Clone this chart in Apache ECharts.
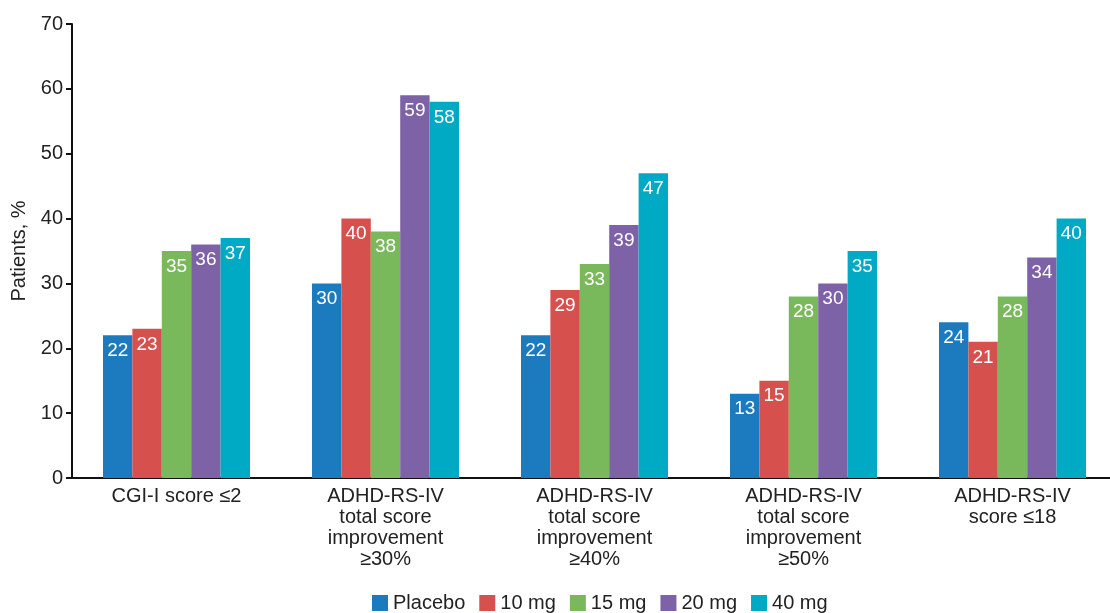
<!DOCTYPE html>
<html><head><meta charset="utf-8">
<script src="https://cdn.jsdelivr.net/npm/echarts@6/dist/echarts.min.js"></script>
<style>html,body{margin:0;padding:0;background:#fff}#c{width:1110px;height:613px}</style>
</head><body><div id="c"></div>
<script>
const categories = ['CGI-I score ≤2', 'ADHD-RS-IV\ntotal score\nimprovement\n≥30%', 'ADHD-RS-IV\ntotal score\nimprovement\n≥40%', 'ADHD-RS-IV\ntotal score\nimprovement\n≥50%', 'ADHD-RS-IV\nscore ≤18'];
const seriesNames = ['Placebo', '10 mg', '15 mg', '20 mg', '40 mg'];
const placebo = [22, 30, 22, 13, 24];
const mg10 = [23, 40, 29, 15, 21];
const mg15 = [35, 38, 33, 28, 28];
const mg20 = [36, 59, 39, 30, 34];
const mg40 = [37, 58, 47, 35, 40];
const yTicks = [0, 10, 20, 30, 40, 50, 60, 70];
const colors = ['#1c7bbf', '#d6504e', '#79b95b', '#7d62a8', '#00aac4'];
const values = [placebo, mg10, mg15, mg20, mg40];
const font = 'Liberation Sans, Arial, sans-serif';
const chart = echarts.init(document.getElementById('c'), null, {renderer: 'canvas'});
chart.setOption({
  animation: false,
  color: colors,
  grid: {left: 72, top: 24, bottom: 135, width: 1045, outerBoundsMode: 'none', containLabel: false},
  legend: {
    top: 593, left: 372, itemWidth: 16, itemHeight: 16, itemGap: 14,
    icon: 'rect', padding: 0,
    textStyle: {fontFamily: font, fontSize: 20, color: '#222'},
    data: seriesNames
  },
  xAxis: {
    type: 'category', data: categories,
    axisLine: {lineStyle: {color: '#111', width: 2}},
    axisTick: {show: false},
    axisLabel: {fontFamily: font, fontSize: 20, color: '#222', lineHeight: 21, margin: 8, interval: 0}
  },
  yAxis: {
    type: 'value', min: yTicks[0], max: yTicks[yTicks.length - 1], interval: 10,
    name: 'Patients, %', nameLocation: 'middle', nameGap: 39, nameRotate: 90,
    nameTextStyle: {fontFamily: font, fontSize: 20, color: '#222'},
    axisLine: {show: true, lineStyle: {color: '#111', width: 2}},
    axisTick: {show: true, length: 6, lineStyle: {color: '#111', width: 2}},
    splitLine: {show: false},
    axisLabel: {fontFamily: font, fontSize: 20, color: '#222', margin: 9}
  },
  series: seriesNames.map((n, i) => ({
    name: n, type: 'bar', data: values[i], barWidth: 29.4, barGap: '0%',
    itemStyle: {color: colors[i]},
    label: {show: true, position: 'insideTop', distance: 6, color: '#fff', fontFamily: font, fontSize: 19}
  }))
});
</script></body></html>
